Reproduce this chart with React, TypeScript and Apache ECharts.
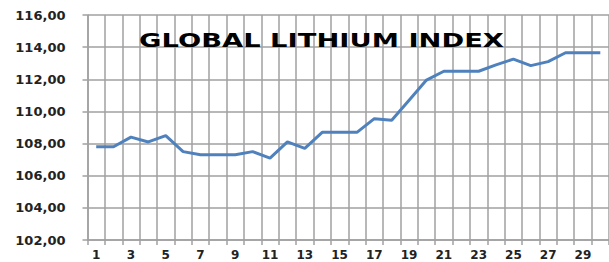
import React, { useEffect, useRef } from "react";
import * as echarts from "echarts";

const categories: string[] = Array.from({ length: 30 }, (_, i) => String(i + 1));
const indexValues: number[] = [
  107.8, 107.8, 108.4, 108.1, 108.5, 107.5, 107.3, 107.3, 107.3, 107.5,
  107.1, 108.1, 107.7, 108.7, 108.7, 108.7, 109.55, 109.45, 110.7, 111.95,
  112.5, 112.5, 112.5, 112.9, 113.25, 112.85, 113.1, 113.65, 113.65, 113.65,
];
const yMin = 102;
const yMax = 116;
const yStep = 2;
const titleText = "GLOBAL LITHIUM INDEX";

export default function App() {
  const ref = useRef<HTMLDivElement>(null);
  useEffect(() => {
    if (!ref.current) return;
    const chart = echarts.init(ref.current, undefined, { renderer: "svg" });
    const grey = "#a0a0a0";
    chart.setOption({
      animation: false,
      backgroundColor: "#ffffff",
      grid: { left: 87.5, top: 15, right: -3.5, bottom: 22, containLabel: false },
      graphic: [
        {
          type: "text",
          x: 139,
          y: 41,
          scaleX: 1.44,
          z: 10,
          style: {
            text: titleText,
            fontFamily: "DejaVu Sans",
            fontWeight: "bold",
            fontSize: 19,
            fill: "#000000",
            textVerticalAlign: "middle",
            textAlign: "left",
          },
        },
      ],
      xAxis: {
        type: "category",
        data: categories,
        boundaryGap: true,
        axisLine: { show: true, lineStyle: { color: grey, width: 1.5 } },
        axisTick: { show: true, interval: 0, length: 5, lineStyle: { color: grey, width: 1.5 } },
        splitLine: { show: true, interval: 0, lineStyle: { color: grey, width: 1.5 } },
        axisLabel: {
          interval: 1,
          margin: 9,
          fontFamily: "DejaVu Sans",
          fontWeight: "bold",
          fontSize: 12,
          color: "#222222",
        },
      },
      yAxis: {
        type: "value",
        min: yMin,
        max: yMax,
        interval: yStep,
        axisLine: { show: true, lineStyle: { color: grey, width: 1.5 } },
        axisTick: { show: true, length: 5, lineStyle: { color: grey, width: 1.5 } },
        splitLine: { show: true, lineStyle: { color: grey, width: 1.5 } },
        axisLabel: {
          margin: 22,
          fontFamily: "DejaVu Sans",
          fontWeight: "bold",
          fontSize: 13,
          color: "#222222",
          formatter: (v: number) => v.toFixed(2).replace(".", ","),
        },
      },
      series: [
        {
          type: "line",
          data: indexValues,
          symbol: "none",
          lineStyle: { color: "#4f81bd", width: 3 },
          z: 5,
        },
      ],
    });
    return () => chart.dispose();
  }, []);
  return (
    <div
      ref={ref}
      style={{ position: "fixed", left: 0, top: 0, width: 609, height: 262, background: "#fff" }}
    />
  );
}
